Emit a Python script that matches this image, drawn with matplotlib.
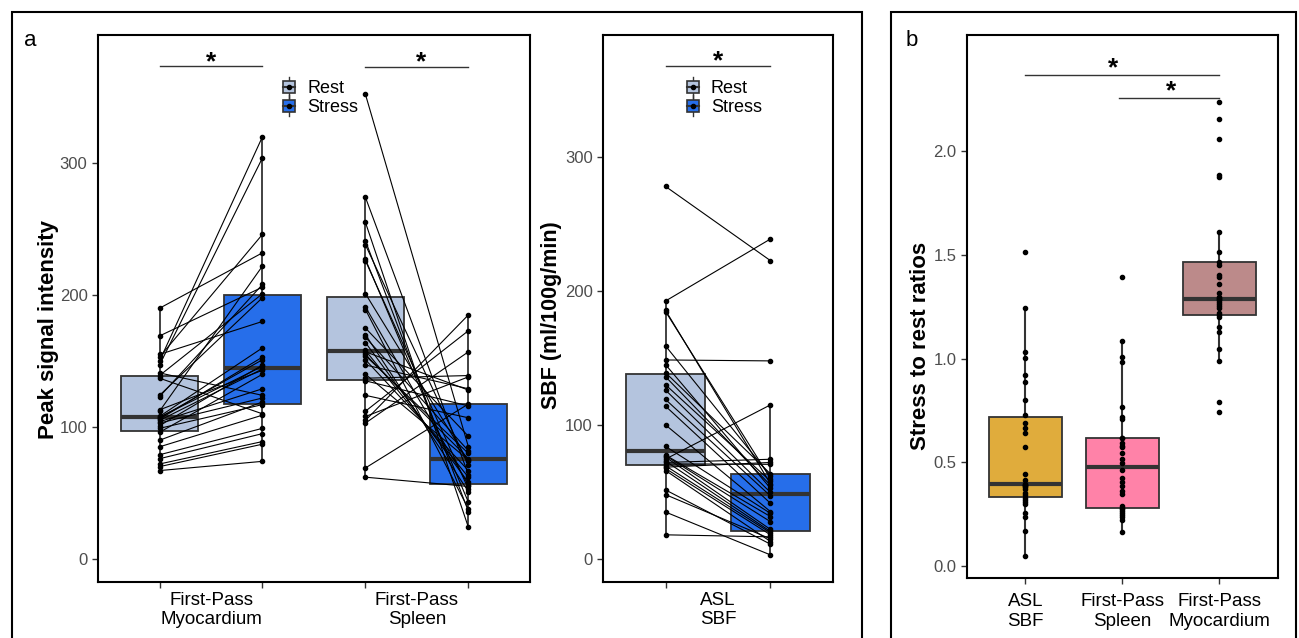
import numpy as np
import matplotlib.pyplot as plt
from matplotlib.legend_handler import HandlerBase
from matplotlib.lines import Line2D
from matplotlib.patches import Rectangle, Patch

plt.rcParams['font.family'] = ['Liberation Sans', 'DejaVu Sans']

# First-pass peak signal intensity, one entry per subject (rest, stress)
myo_rest = [190, 169, 155, 153, 150, 147, 141, 139, 137, 124, 123, 113, 112, 108, 107.5,
            107, 106, 105, 104, 103, 101, 99, 96, 90, 85, 79, 76, 72, 70, 67]
myo_stress = [232, 206, 180, 246, 320, 304, 124, 201, 110, 198, 208, 143, 222, 160, 146,
              151, 153, 144, 129, 122, 147, 117, 140, 119, 109, 99, 95, 89, 87, 74]
spleen_rest = [352, 274, 255, 241, 238, 227, 226, 201, 191, 189, 175, 170, 168, 164, 158,
               157, 155, 154, 151, 147, 140, 137, 135, 124, 112, 108, 105, 103, 69, 62]
spleen_stress = [85, 64, 24, 36, 71, 43, 53, 74, 56, 38, 93, 51, 82, 58, 62,
                 128, 76, 80, 67, 129, 75, 139, 116, 107, 173, 138, 185, 157, 117.5, 55]

# ASL spleen blood flow (ml/100g/min)
sbf_rest = [278, 192.5, 185.5, 184.6, 159, 148.5, 145, 139, 136, 130, 126, 119, 114, 100, 84,
            77.5, 77, 76, 74.5, 73, 72, 71, 69.5, 68.5, 67.5, 66, 51.5, 48, 35, 18]
sbf_stress = [222.6, 238.8, 56, 60, 62, 147.8, 52.7, 63.5, 55, 58, 49.6, 47, 41.5, 35.3, 34,
              31.6, 27.8, 22, 115, 20.5, 74.4, 70.6, 19.5, 72, 18, 13, 11, 15, 3, 16.5]

# stress to rest ratios
ratio_asl = [0.05, 0.17, 0.235, 0.254, 0.30, 0.31, 0.318, 0.33, 0.34, 0.353, 0.37, 0.38, 0.386,
             0.39, 0.392, 0.396, 0.414, 0.442, 0.575, 0.639, 0.663, 0.69, 0.726, 0.80, 0.888,
             0.92, 1.001, 1.033, 1.242, 1.511]
ratio_spleen = [0.162, 0.222, 0.235, 0.245, 0.254, 0.265, 0.273, 0.278, 0.29, 0.347, 0.363,
                0.386, 0.406, 0.423, 0.463, 0.495, 0.514, 0.546, 0.575, 0.58, 0.591, 0.615,
                0.619, 0.707, 0.717, 0.765, 0.985, 1.009, 1.086, 1.394]
ratio_myo = [0.744, 0.789, 0.988, 1.046, 1.129, 1.153, 1.201, 1.21, 1.218, 1.242, 1.253, 1.263,
             1.27, 1.28, 1.285, 1.291, 1.298, 1.314, 1.359, 1.394, 1.402, 1.45, 1.467, 1.511,
             1.611, 1.876, 1.884, 2.056, 2.154, 2.235]

ratio_labels = ['ASL\nSBF', 'First-Pass\nSpleen', 'First-Pass\nMyocardium']
ratio_colors = ['#E0AC3C', '#FF82A8', '#BC8A8A']

REST = '#B4C4DE'
STRESS = '#266EEA'
EDGE = '#333333'


class BoxKey(HandlerBase):
    # legend glyph looking like a small ggplot boxplot
    def create_artists(self, legend, orig_handle, xdescent, ydescent,
                       width, height, fontsize, trans):
        x0, y0 = -xdescent, -ydescent
        cx, cy = x0 + width / 2, y0 + height / 2
        wh = Line2D([cx, cx], [y0 - 0.2 * height, y0 + 1.2 * height], color=EDGE, lw=1, transform=trans)
        box = Rectangle((x0 + 0.1 * width, y0 + 0.1 * height), 0.8 * width, 0.8 * height,
                        facecolor=orig_handle.get_facecolor(), edgecolor=EDGE, lw=1.2, transform=trans)
        med = Line2D([x0 + 0.1 * width, x0 + 0.9 * width], [cy, cy], color=EDGE, lw=1.5, transform=trans)
        dot = Line2D([cx], [cy], marker='o', ms=3, color='black', transform=trans)
        return [wh, box, med, dot]


def style_axes(ax):
    for s in ax.spines.values():
        s.set_linewidth(1.5)
        s.set_color('black')
    ax.tick_params(axis='both', which='major', colors=EDGE, length=4, width=1,
                   labelcolor='#4D4D4D', labelsize=12)


def sig_bar(ax, x1, x2, y, xs, off=-2):
    ax.plot([x1, x2], [y, y], color=EDGE, lw=1)
    ax.annotate('*', (xs, y), xytext=(0, off), textcoords='offset points',
                ha='center', va='baseline', fontsize=19, fontweight='bold')


def paired_panel(ax, centers, rests, stresses, labels):
    off = 0.25
    for c, rest, stress in zip(centers, rests, stresses):
        bp = ax.boxplot([rest, stress], positions=[c - off, c + off], widths=0.375,
                        patch_artist=True, showfliers=False, showcaps=False, whis=1.5,
                        medianprops=dict(color=EDGE, lw=3),
                        boxprops=dict(edgecolor=EDGE, lw=1.3),
                        whiskerprops=dict(color=EDGE, lw=1.3),
                        manage_ticks=False, zorder=1)
        for patch, col in zip(bp['boxes'], [REST, STRESS]):
            patch.set_facecolor(col)
        for r, s in zip(rest, stress):
            ax.plot([c - off, c + off], [r, s], color='black', lw=0.8, zorder=2)
        ax.plot(np.full(len(rest), c - off), rest, 'o', ms=3, color='black', zorder=3)
        ax.plot(np.full(len(stress), c + off), stress, 'o', ms=3, color='black', zorder=3)

    ticks = []
    for c in centers:
        ticks += [c - off, c + off]
    ax.set_xticks(ticks)
    ax.set_xticklabels([''] * len(ticks))
    ax.set_xticks(centers, minor=True)
    ax.set_xticklabels(labels, minor=True)
    ax.tick_params(axis='x', which='minor', length=0, labelsize=13.5, labelcolor='black', pad=7)
    ax.set_yticks([0, 100, 200, 300])

    handles = [Patch(facecolor=REST), Patch(facecolor=STRESS)]
    return handles


def plot_figure():
    fig = plt.figure(figsize=(12.99, 6.38), dpi=100)

    # panel a, left
    ax1 = fig.add_axes([0.0754, 0.0878, 0.3326, 0.8573])
    style_axes(ax1)
    h = paired_panel(ax1, [1, 2], [myo_rest, spleen_rest], [myo_stress, spleen_stress],
                     ['First-Pass\nMyocardium', 'First-Pass\nSpleen'])
    ax1.set_xlim(0.451, 2.549)
    ax1.set_ylim(-17.4, 397)
    sig_bar(ax1, 0.75, 1.25, 373.5, 1.0)
    sig_bar(ax1, 1.75, 2.25, 373, 2.02)
    ax1.legend(h, ['Rest', 'Stress'], handler_map={k: BoxKey() for k in h},
               loc='upper left', bbox_to_anchor=(0.405, 0.935), frameon=False,
               fontsize=13, handlelength=0.8, handleheight=0.9, handletextpad=0.6,
               labelspacing=0.05, borderpad=0)
    fig.text(49 / 1299, 0.484, 'Peak signal intensity', rotation=90, ha='center', va='center',
             fontsize=16, fontweight='bold')

    # panel a, right
    ax2 = fig.add_axes([0.4642, 0.0878, 0.1771, 0.8573])
    style_axes(ax2)
    h = paired_panel(ax2, [1], [sbf_rest], [sbf_stress], ['ASL\nSBF'])
    ax2.set_xlim(0.452, 1.548)
    ax2.set_ylim(-17.2, 391)
    sig_bar(ax2, 0.75, 1.25, 368, 1.0)
    ax2.legend(h, ['Rest', 'Stress'], handler_map={k: BoxKey() for k in h},
               loc='upper left', bbox_to_anchor=(0.32, 0.935), frameon=False,
               fontsize=13, handlelength=0.8, handleheight=0.9, handletextpad=0.6,
               labelspacing=0.05, borderpad=0)
    fig.text(552 / 1299, 0.506, 'SBF (ml/100g/min)', rotation=90, ha='center', va='center',
             fontsize=15.5, fontweight='bold')

    # panel b
    ax3 = fig.add_axes([0.7444, 0.094, 0.2394, 0.8511])
    style_axes(ax3)
    pos = [1, 2, 3]
    ratios = [ratio_asl, ratio_spleen, ratio_myo]
    bp = ax3.boxplot(ratios, positions=pos, widths=0.75, patch_artist=True,
                     showfliers=False, showcaps=False, whis=1.5,
                     medianprops=dict(color=EDGE, lw=3),
                     boxprops=dict(edgecolor=EDGE, lw=1.3),
                     whiskerprops=dict(color=EDGE, lw=1.5),
                     manage_ticks=False, zorder=1)
    for patch, col in zip(bp['boxes'], ratio_colors):
        patch.set_facecolor(col)
    for p, vals in zip(pos, ratios):
        ax3.plot(np.full(len(vals), p), vals, 'o', ms=3, color='black', zorder=3)
    ax3.set_xticks(pos)
    ax3.set_xticklabels(ratio_labels)
    ax3.tick_params(axis='x', labelsize=13.5, labelcolor='black', pad=7)
    ax3.set_yticks([0, 0.5, 1.0, 1.5, 2.0])
    ax3.set_yticklabels(['0.0', '0.5', '1.0', '1.5', '2.0'])
    ax3.set_xlim(0.397, 3.603)
    ax3.set_ylim(-0.058, 2.559)
    sig_bar(ax3, 1, 3, 2.368, 1.9, off=-0.5)
    sig_bar(ax3, 1.96, 3, 2.257, 2.5, off=-0.5)
    fig.text(0.709, 0.458, 'Stress to rest ratios', rotation=90, ha='center', va='center',
             fontsize=16, fontweight='bold')

    # outer frames and panel letters
    fig.patches.append(Rectangle((12 / 1299, -0.05), 850 / 1299, 1.05 - 12 / 638, fill=False,
                                 edgecolor='black', lw=1.5, transform=fig.transFigure))
    fig.patches.append(Rectangle((891 / 1299, -0.05), 405 / 1299, 1.05 - 12 / 638, fill=False,
                                 edgecolor='black', lw=1.5, transform=fig.transFigure))
    fig.text(30 / 1299, 1 - 40 / 638, 'a', ha='center', va='center', fontsize=16)
    fig.text(912 / 1299, 1 - 40 / 638, 'b', ha='center', va='center', fontsize=16)

    fig.savefig('out.png', dpi=100)


if __name__ == '__main__':
    plot_figure()
